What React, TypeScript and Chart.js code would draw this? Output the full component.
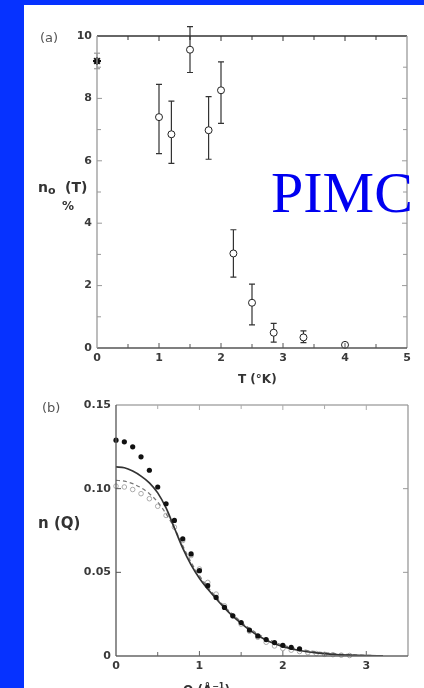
import React, { useEffect, useRef } from "react";
import { Chart, registerables } from "chart.js";
Chart.register(...registerables);

const BLUE = "rgb(6,50,255)";
const TICK_FONT = { family: "DejaVu Sans", size: 11, weight: "bold" as const };
const TICK_COLOR = "#3a3a3a";

// ---------- Panel (a): condensate fraction vs temperature ----------
const tempStar = [0];
const n0Star = [9.2];
const n0StarHi = [9.45];
const n0StarLo = [8.95];
const temps = [1.0, 1.2, 1.5, 1.8, 2.0, 2.2, 2.5, 2.85, 3.33, 4.0];
const n0 = [7.4, 6.85, 9.56, 6.98, 8.26, 3.03, 1.45, 0.49, 0.34, 0.1];
const n0Hi = [8.45, 7.91, 10.3, 8.06, 9.17, 3.79, 2.05, 0.79, 0.55, 0.15];
const n0Lo = [6.23, 5.92, 8.83, 6.05, 7.2, 2.27, 0.74, 0.19, 0.17, 0.05];
const tMajor = [0, 1, 2, 3, 4, 5];
const tMinor = [0.5, 1.5, 2.5, 3.5, 4.5];
const nMajor = [0, 2, 4, 6, 8, 10];
const nMinor = [1, 3, 5, 7, 9];

// ---------- Panel (b): momentum distribution ----------
const qDots = [0, 0.1, 0.2, 0.3, 0.4, 0.5, 0.6, 0.7, 0.8, 0.9, 1.0, 1.1, 1.2, 1.3, 1.4, 1.5, 1.6, 1.7, 1.8, 1.9, 2.0, 2.1, 2.2];
const nDots = [0.129, 0.128, 0.125, 0.119, 0.111, 0.101, 0.091, 0.081, 0.070, 0.061, 0.051, 0.042, 0.035, 0.029, 0.024, 0.020, 0.0155, 0.012, 0.0098, 0.008, 0.0064, 0.0052, 0.0043];
const qSolid = [0, 0.1, 0.2, 0.3, 0.4, 0.5, 0.6, 0.7, 0.8, 0.9, 1.0, 1.1, 1.2, 1.3, 1.4, 1.5, 1.6, 1.7, 1.8, 1.9, 2.0, 2.2, 2.4, 2.6, 2.8, 3.0, 3.2];
const nSolid = [0.113, 0.1125, 0.1105, 0.1075, 0.1035, 0.0975, 0.0885, 0.0765, 0.0645, 0.0545, 0.0465, 0.04, 0.0342, 0.0288, 0.0238, 0.0195, 0.0156, 0.0122, 0.0095, 0.0073, 0.0056, 0.0033, 0.0019, 0.001, 0.0005, 0.0002, 0.0001];
const qDash = [0, 0.1, 0.2, 0.3, 0.4, 0.5, 0.6, 0.7, 0.8, 0.9, 1.0, 1.2, 1.4, 1.6, 1.8, 2.0, 2.2, 2.4, 2.6, 2.8, 3.0, 3.2];
const nDash = [0.105, 0.1045, 0.103, 0.1005, 0.097, 0.092, 0.085, 0.0765, 0.066, 0.056, 0.048, 0.0352, 0.0248, 0.0165, 0.0105, 0.0065, 0.004, 0.0025, 0.0015, 0.0008, 0.0004, 0.0002];
const qOpen = [0, 0.1, 0.2, 0.3, 0.4, 0.5, 0.6, 0.7, 0.8, 0.9, 1.0, 1.1, 1.2, 1.3, 1.4, 1.5, 1.6, 1.7, 1.8, 1.9, 2.0, 2.1, 2.2, 2.3, 2.4, 2.5, 2.6, 2.7, 2.8];
const nOpen = [0.1015, 0.101, 0.0995, 0.097, 0.094, 0.0895, 0.084, 0.077, 0.069, 0.06, 0.052, 0.044, 0.037, 0.03, 0.024, 0.019, 0.0148, 0.0112, 0.0082, 0.006, 0.0045, 0.0035, 0.0027, 0.002, 0.0015, 0.001, 0.0008, 0.0005, 0.0003];
const qMajor = [0, 1, 2, 3];
const qMinor = [0.5, 1.5, 2.5];
const nqMajor = [0, 0.05, 0.1, 0.15];
const nqMinor: number[] = [];

const pts = (xs: number[], ys: number[]) => xs.map((x, i) => ({ x, y: ys[i] }));

type FrameOpts = {
  xMajor: number[]; xMinor: number[]; yMajor: number[]; yMinor: number[];
  top: string; right: string; bottom: string; left: string;
};

function framePlugin(o: FrameOpts) {
  return {
    id: "frame",
    afterDraw(chart: any) {
      const { ctx, chartArea } = chart;
      const { left, right, top, bottom } = chartArea;
      const xs = chart.scales.x, ys = chart.scales.y;
      const line = (x1: number, y1: number, x2: number, y2: number, c: string, w = 1) => {
        ctx.strokeStyle = c; ctx.lineWidth = w;
        ctx.beginPath(); ctx.moveTo(x1, y1); ctx.lineTo(x2, y2); ctx.stroke();
      };
      ctx.save();
      line(left, top, right, top, o.top, 1.3);
      line(right, top, right, bottom, o.right, 1.3);
      line(left, bottom, right, bottom, o.bottom, 1.3);
      line(left, top, left, bottom, o.left, 1.3);
      const tick = (vals: number[], len: number) => {
        vals.forEach((v) => {
          const px = xs.getPixelForValue(v);
          if (px <= left + 1 || px >= right - 1) return;
          line(px, bottom, px, bottom - len, o.bottom, 1);
          line(px, top, px, top + len, o.top, 1);
        });
      };
      const tickY = (vals: number[], len: number) => {
        vals.forEach((v) => {
          const py = ys.getPixelForValue(v);
          if (py <= top + 1 || py >= bottom - 1) return;
          line(left, py, left + len, py, o.left, 1);
          line(right, py, right - len, py, o.right, 1);
        });
      };
      tick(o.xMajor, 5); tick(o.xMinor, 4);
      tickY(o.yMajor, 5); tickY(o.yMinor, 4);
      ctx.restore();
    },
  };
}

const errorBarPlugin = {
  id: "errbars",
  beforeDatasetsDraw(chart: any) {
    const { ctx } = chart;
    const xs = chart.scales.x, ys = chart.scales.y;
    const draw = (t: number[], hi: number[], lo: number[]) => {
      t.forEach((tv, i) => {
        const px = xs.getPixelForValue(tv);
        const ph = ys.getPixelForValue(hi[i]);
        const pl = ys.getPixelForValue(lo[i]);
        ctx.beginPath();
        ctx.moveTo(px, ph); ctx.lineTo(px, pl);
        ctx.moveTo(px - 3, ph); ctx.lineTo(px + 3, ph);
        ctx.moveTo(px - 3, pl); ctx.lineTo(px + 3, pl);
        ctx.stroke();
      });
    };
    ctx.save();
    ctx.strokeStyle = "#333"; ctx.lineWidth = 1.2;
    draw(temps, n0Hi, n0Lo);
    ctx.strokeStyle = "#888"; ctx.lineWidth = 1;
    draw(tempStar, n0StarHi, n0StarLo);
    ctx.restore();
  },
};

function axisCommon(min: number, max: number, step: number, fit: (s: any) => void, padding: number, fmt?: (v: number) => string) {
  return {
    type: "linear" as const,
    min, max,
    grid: { display: false, drawTicks: false },
    border: { display: false },
    afterFit: fit,
    ticks: {
      stepSize: step, padding, includeBounds: false,
      font: TICK_FONT, color: TICK_COLOR,
      callback: fmt ? (v: any) => fmt(Number(v)) : undefined,
    },
  };
}

function configA(): any {
  return {
    type: "scatter",
    data: {
      datasets: [
        {
          data: pts(temps, n0), pointStyle: "circle", pointRadius: 3.5,
          borderColor: "#222", backgroundColor: "#fff", borderWidth: 1, clip: false,
        },
        {
          data: pts(tempStar, n0Star), pointStyle: "star", pointRadius: 4,
          borderColor: "#111", backgroundColor: "#111", borderWidth: 2, clip: false,
        },
      ],
    },
    options: {
      responsive: false, animation: false, devicePixelRatio: 1,
      layout: { padding: { left: 0, top: 31, right: 17, bottom: 22 } },
      plugins: { legend: { display: false }, tooltip: { enabled: false } },
      scales: {
        x: axisCommon(0, 5, 1, (s) => { s.height = 20; }, 4),
        y: axisCommon(0, 10, 2, (s) => { s.width = 73; }, 5),
      },
    },
    plugins: [errorBarPlugin, framePlugin({ xMajor: tMajor, xMinor: tMinor, yMajor: nMajor, yMinor: nMinor, top: "#333", right: "#9a9a9a", bottom: "#555", left: "#999" })],
  };
}

function configB(): any {
  return {
    type: "scatter",
    data: {
      datasets: [
        {
          data: pts(qDots, nDots), pointStyle: "circle", pointRadius: 2.6,
          borderColor: "#111", backgroundColor: "#111", borderWidth: 0, clip: false,
        },
        {
          data: pts(qSolid, nSolid), showLine: true, pointRadius: 0, borderColor: "#333",
          borderWidth: 1.7, cubicInterpolationMode: "monotone",
        },
        {
          data: pts(qDash, nDash), showLine: true, pointRadius: 0, borderColor: "#777",
          borderWidth: 1.2, borderDash: [4, 3], cubicInterpolationMode: "monotone",
        },
        {
          data: pts(qOpen, nOpen), pointStyle: "circle", pointRadius: 2.3,
          borderColor: "#aaa", backgroundColor: "rgba(255,255,255,0)", borderWidth: 1, clip: false,
        },
      ],
    },
    options: {
      responsive: false, animation: false, devicePixelRatio: 1,
      layout: { padding: { left: 0, top: 15, right: 16, bottom: 12 } },
      plugins: { legend: { display: false }, tooltip: { enabled: false } },
      scales: {
        x: axisCommon(0, 3.5, 1, (s) => { s.height = 20; }, 4),
        y: axisCommon(0, 0.15, 0.05, (s) => { s.width = 92; }, 5, (v) => (v === 0 ? "0" : v.toFixed(2))),
      },
    },
    plugins: [framePlugin({ xMajor: qMajor, xMinor: qMinor, yMajor: nqMajor, yMinor: nqMinor, top: "#aaa", right: "#999", bottom: "#666", left: "#555" })],
  };
}

function ChartCanvas({ make, left, top, width, height }: { make: () => any; left: number; top: number; width: number; height: number }) {
  const ref = useRef<HTMLCanvasElement>(null);
  useEffect(() => {
    const chart = new Chart(ref.current as HTMLCanvasElement, make());
    return () => chart.destroy();
  }, []);
  return (
    <canvas ref={ref} width={width} height={height}
      style={{ position: "absolute", left, top, width, height }} />
  );
}

function Label({ x, y, size, children, bold = true, color = "#333", family = "DejaVu Sans", extra = {} }: any) {
  return (
    <div style={{
      position: "absolute", left: x, top: y, fontFamily: family, fontSize: size,
      fontWeight: bold ? "bold" : "normal", color, lineHeight: 1, whiteSpace: "nowrap", ...extra,
    }}>{children}</div>
  );
}

export default function App() {
  return (
    <div style={{ position: "fixed", left: 0, top: 0, width: 424, height: 688, background: BLUE, overflow: "hidden" }}>
      <div style={{ position: "absolute", left: 24, top: 5, width: 400, height: 683, background: "#fff" }} />
      <ChartCanvas make={configA} left={24} top={5} width={400} height={385} />
      <ChartCanvas make={configB} left={24} top={390} width={400} height={298} />

      <Label x={40} y={31} size={13} bold={false} color="#555">(a)</Label>
      <Label x={38} y={180} size={14}>n</Label>
      <Label x={48} y={185} size={11}>o</Label>
      <Label x={65} y={180} size={14}>(T)</Label>
      <Label x={62} y={200} size={12}>%</Label>
      <Label x={238} y={373} size={12}>T (°K)</Label>

      <Label x={42} y={401} size={13} bold={false} color="#555">(b)</Label>
      <Label x={38} y={516} size={15}>n (Q)</Label>
      <Label x={183} y={683} size={12}>Q (Å<sup style={{ fontSize: 8 }}>−1</sup>)</Label>

      <Label x={271} y={164} size={58} bold={false} color="#0000f0" family="Liberation Serif">PIMC</Label>
    </div>
  );
}
